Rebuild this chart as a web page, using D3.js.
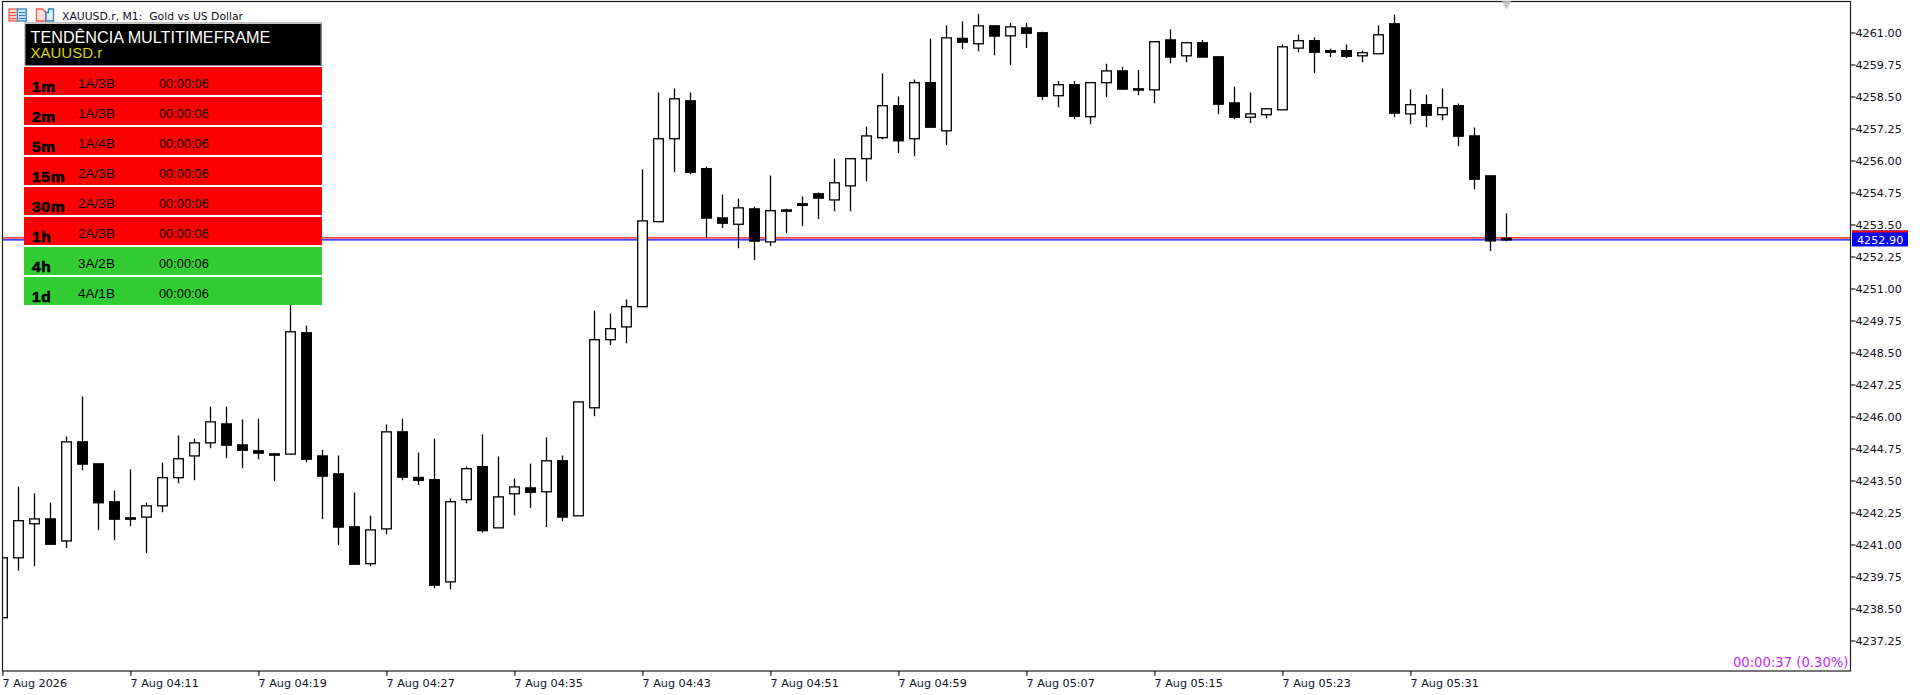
<!DOCTYPE html>
<html>
<head>
<meta charset="utf-8">
<title>XAUUSD.r M1</title>
<script src="https://cdn.jsdelivr.net/npm/d3@7/dist/d3.min.js"></script>
<style>
    html, body { margin: 0; padding: 0; background: #fff; overflow: hidden; }
    svg { display: block; }
    text { font-family: "DejaVu Sans", sans-serif; }
    .axis path, .axis line { stroke: #1c1c1c; stroke-width: 1.2; }
    .axis text { font-size: 11.2px; fill: #10101c; font-family: "DejaVu Sans", sans-serif; }
    .panel text { font-family: "Liberation Sans", Arial, sans-serif; }
</style>
</head>
<body>
<div id="chart"></div>
<script>
    "use strict";
    //====================================
    //chart data
    var opens = [4238.14, 4240.48, 4241.81, 4242.00, 4241.14, 4245.01, 4244.15, 4242.67, 4242.04, 4242.07,
        4242.51, 4243.61, 4244.46, 4244.97, 4245.71, 4244.89, 4244.66, 4244.54, 4244.53, 4249.27,
        4244.46, 4243.76, 4241.69, 4240.25, 4241.61, 4245.40, 4243.62, 4243.53, 4239.54, 4242.75,
        4244.04, 4241.65, 4242.98, 4243.21, 4243.06, 4244.27, 4242.12, 4246.34, 4249.00, 4249.50,
        4250.29, 4253.61, 4256.85, 4258.33, 4255.68, 4253.76, 4253.51, 4254.11, 4252.82, 4254.07,
        4254.31, 4254.70, 4254.46, 4255.01, 4256.07, 4256.89, 4258.14, 4256.85, 4259.04, 4257.16,
        4260.77, 4260.56, 4261.26, 4260.87, 4261.18, 4260.99, 4258.53, 4258.96, 4257.71, 4259.04,
        4259.50, 4258.80, 4258.76, 4260.71, 4260.09, 4260.60, 4260.05, 4258.25, 4257.69, 4257.79,
        4257.98, 4260.39, 4260.68, 4260.29, 4260.29, 4260.09, 4260.17, 4261.34, 4257.82, 4258.18,
        4257.79, 4258.14, 4256.96, 4255.40, 4252.96];
    var highs = [4240.48, 4243.27, 4242.99, 4242.64, 4245.22, 4246.78, 4244.15, 4243.11, 4243.93, 4242.64,
        4244.20, 4245.26, 4245.14, 4246.39, 4246.39, 4245.88, 4245.92, 4244.58, 4250.92, 4249.55,
        4244.70, 4244.48, 4243.03, 4242.13, 4245.69, 4245.92, 4244.59, 4245.14, 4242.80, 4244.05,
        4245.30, 4244.44, 4243.58, 4244.16, 4245.18, 4244.48, 4246.57, 4250.14, 4250.02, 4250.57,
        4255.65, 4258.66, 4258.81, 4258.66, 4255.77, 4254.67, 4254.52, 4254.20, 4255.41, 4254.12,
        4254.59, 4254.75, 4256.08, 4256.07, 4257.33, 4259.40, 4258.50, 4259.16, 4260.77, 4261.27,
        4261.43, 4261.73, 4261.27, 4261.38, 4261.38, 4261.03, 4259.11, 4259.11, 4259.07, 4259.78,
        4259.66, 4259.54, 4260.66, 4261.12, 4260.64, 4260.71, 4260.05, 4258.89, 4258.66, 4258.02,
        4260.53, 4260.92, 4260.80, 4260.37, 4260.53, 4260.29, 4261.27, 4261.70, 4258.77, 4258.58,
        4258.81, 4258.23, 4257.29, 4255.40, 4253.93];
    var lows = [4238.14, 4239.98, 4240.15, 4241.01, 4240.86, 4243.90, 4241.56, 4241.17, 4241.71, 4240.66,
        4242.26, 4243.39, 4243.51, 4244.76, 4244.37, 4243.98, 4244.33, 4243.47, 4244.53, 4244.21,
        4241.99, 4240.97, 4240.23, 4240.15, 4241.40, 4243.51, 4243.32, 4239.29, 4239.25, 4242.61,
        4241.47, 4241.65, 4242.14, 4242.42, 4241.68, 4241.91, 4242.12, 4246.01, 4248.79, 4248.86,
        4250.29, 4253.61, 4255.54, 4255.46, 4252.98, 4253.36, 4252.57, 4252.11, 4252.65, 4253.16,
        4253.43, 4253.71, 4254.02, 4254.02, 4255.19, 4256.83, 4256.29, 4256.17, 4257.30, 4256.60,
        4260.35, 4260.27, 4260.11, 4259.72, 4260.39, 4258.36, 4258.08, 4257.61, 4257.42, 4258.47,
        4258.75, 4258.55, 4258.24, 4259.80, 4259.84, 4260.04, 4257.81, 4257.61, 4257.46, 4257.65,
        4257.98, 4260.23, 4259.41, 4260.04, 4260.00, 4259.84, 4260.17, 4257.69, 4257.42, 4257.30,
        4257.57, 4256.56, 4254.88, 4252.46, 4252.85];
    var closes = [4240.48, 4241.93, 4242.00, 4241.01, 4245.01, 4244.14, 4242.63, 4241.99, 4241.99, 4242.51,
        4243.61, 4244.35, 4244.97, 4245.79, 4244.88, 4244.68, 4244.57, 4244.49, 4249.31, 4244.33,
        4243.67, 4241.68, 4240.23, 4241.57, 4245.40, 4243.63, 4243.51, 4239.41, 4242.67, 4243.96,
        4241.54, 4242.86, 4243.25, 4243.04, 4244.27, 4242.07, 4246.57, 4249.00, 4249.43, 4250.29,
        4253.64, 4256.85, 4258.41, 4255.54, 4253.75, 4253.55, 4254.15, 4252.85, 4254.04, 4254.02,
        4254.25, 4254.53, 4255.13, 4256.07, 4256.96, 4258.14, 4256.77, 4259.04, 4257.30, 4260.79,
        4260.62, 4261.26, 4260.86, 4261.22, 4260.97, 4258.51, 4258.96, 4257.73, 4259.04, 4259.50,
        4258.79, 4258.75, 4260.64, 4260.04, 4260.60, 4260.04, 4258.20, 4257.69, 4257.82, 4258.02,
        4260.44, 4260.68, 4260.23, 4260.23, 4260.07, 4260.21, 4260.91, 4257.85, 4258.18, 4257.77,
        4258.06, 4256.95, 4255.27, 4252.86, 4252.90];

    var priceTicks = [4261.00, 4259.75, 4258.50, 4257.25, 4256.00, 4254.75, 4253.50, 4252.25, 4251.00, 4249.75,
        4248.50, 4247.25, 4246.00, 4244.75, 4243.50, 4242.25, 4241.00, 4239.75, 4238.50, 4237.25];
    var timeTickBars = [0, 8, 16, 24, 32, 40, 48, 56, 64, 72, 80, 88];
    var timeTickLabels = ['7 Aug 2026', '7 Aug 04:11', '7 Aug 04:19', '7 Aug 04:27', '7 Aug 04:35', '7 Aug 04:43',
        '7 Aug 04:51', '7 Aug 04:59', '7 Aug 05:07', '7 Aug 05:15', '7 Aug 05:23', '7 Aug 05:31'];

    var bidPrice = 4252.90;
    var askPrice = 4252.98;

    var panelFrames = ['1m', '2m', '5m', '15m', '30m', '1h', '4h', '1d'];
    var panelCounts = ['1A/3B', '1A/3B', '1A/4B', '2A/3B', '2A/3B', '2A/3B', '3A/2B', '4A/1B'];
    var panelTimers = ['00:00:06', '00:00:06', '00:00:06', '00:00:06', '00:00:06', '00:00:06', '00:00:06', '00:00:06'];
    var panelColors = ['#ff0000', '#ff0000', '#ff0000', '#ff0000', '#ff0000', '#ff0000', '#32cd32', '#32cd32'];

    //====================================
    //layout
    var width = 1920;
    var height = 695;
    var plot = {left: 2.5, right: 1850.5, top: 1.5, bottom: 671};

    var svg = d3.select('#chart').append('svg')
        .attr('width', width)
        .attr('height', height);

    svg.append('clipPath').attr('id', 'plotClip')
        .append('rect')
        .attr('x', plot.left)
        .attr('y', plot.top)
        .attr('width', plot.right - plot.left)
        .attr('height', plot.bottom - plot.top);

    //1.25 price steps are 32px apart
    var y = d3.scaleLinear()
        .domain([4261, 4237.25])
        .range([32.5, 640.5]);
    //bars are 16px apart
    var x = d3.scaleLinear()
        .domain([0, 94])
        .range([2.5, 1506.5]);

    //====================================
    //price lines sit behind the candles
    var lines = svg.append('g').attr('clip-path', 'url(#plotClip)');
    lines.append('line')
        .attr('x1', plot.left).attr('x2', plot.right)
        .attr('y1', y(askPrice)).attr('y2', y(askPrice))
        .attr('stroke', '#ff0000').attr('stroke-width', 1.2);
    lines.append('line')
        .attr('x1', plot.left).attr('x2', plot.right)
        .attr('y1', y(bidPrice)).attr('y2', y(bidPrice))
        .attr('stroke', '#0000ff').attr('stroke-width', 1.2);

    //====================================
    //candles
    var candles = svg.append('g')
        .attr('clip-path', 'url(#plotClip)')
        .selectAll('g')
        .data(opens)
        .enter().append('g');

    candles.append('line')
        .attr('x1', function(d, i){return x(i);})
        .attr('x2', function(d, i){return x(i);})
        .attr('y1', function(d, i){return y(highs[i]);})
        .attr('y2', function(d, i){return y(lows[i]);})
        .attr('stroke', '#000')
        .attr('stroke-width', 1.3);

    candles.append('rect')
        .attr('x', function(d, i){return x(i) - 4.8;})
        .attr('width', 9.6)
        .attr('y', function(d, i){return y(Math.max(d, closes[i]));})
        .attr('height', function(d, i){return Math.abs(y(d) - y(closes[i]));})
        .attr('fill', function(d, i){return closes[i] > d ? '#fff' : '#000';})
        .attr('stroke', '#000')
        .attr('stroke-width', 1.3);

    //====================================
    //axes
    var yAxis = d3.axisRight(y)
        .tickValues(priceTicks)
        .tickFormat(d3.format('.2f'))
        .tickSize(5)
        .tickPadding(0);
    svg.append('g')
        .attr('class', 'axis')
        .attr('transform', 'translate(' + plot.right + ',0)')
        .call(yAxis)
        .call(function(g){g.select('.domain').remove();});

    var xAxis = d3.axisBottom(x)
        .tickValues(timeTickBars)
        .tickFormat(function(d, i){return timeTickLabels[i];})
        .tickSize(5)
        .tickPadding(3);
    svg.append('g')
        .attr('class', 'axis')
        .attr('transform', 'translate(0,' + plot.bottom + ')')
        .call(xAxis)
        .call(function(g){g.select('.domain').remove();})
        .selectAll('text')
        .attr('text-anchor', 'start')
        .attr('dx', '-0.5');

    //plot frame
    svg.append('rect')
        .attr('x', plot.left)
        .attr('y', plot.top)
        .attr('width', plot.right - plot.left)
        .attr('height', plot.bottom - plot.top)
        .attr('fill', 'none')
        .attr('stroke', '#1c1c1c')
        .attr('stroke-width', 1.2);

    //====================================
    //current price tag
    var tag = svg.append('g');
    tag.append('rect')
        .attr('x', 1852).attr('y', y(bidPrice) - 9.4)
        .attr('width', 56).attr('height', 16)
        .attr('fill', '#0000ff');
    tag.append('rect')
        .attr('x', 1852).attr('y', y(bidPrice) - 9.4)
        .attr('width', 56).attr('height', 2)
        .attr('fill', '#ff0000');
    tag.append('text')
        .attr('x', 1857).attr('y', y(bidPrice) + 4.2)
        .attr('font-size', 11.2)
        .attr('fill', '#fff')
        .text(d3.format('.2f')(bidPrice));

    //countdown bottom right
    svg.append('text')
        .attr('x', 1848.5).attr('y', 667)
        .attr('text-anchor', 'end')
        .attr('font-size', 13.2)
        .attr('fill', '#c02cf0')
        .text('00:00:37 (0.30%)');

    //grey scroll marker on top
    svg.append('path')
        .attr('d', d3.symbol().type(d3.symbolTriangle).size(38))
        .attr('transform', 'translate(' + x(94) + ',4) rotate(180)')
        .attr('fill', '#c4c4c4');

    //====================================
    //title bar
    svg.append('text')
        .attr('x', 62).attr('y', 20)
        .attr('font-size', 10.8)
        .attr('fill', '#10101c')
        .text('XAUUSD.r, M1:  Gold vs US Dollar')
        .style('white-space', 'pre');

    var icons = svg.append('g').attr('fill', 'none').attr('stroke-width', 1.3);
    icons.append('rect').attr('x', 9).attr('y', 9).attr('width', 8.5).attr('height', 12)
        .attr('stroke', '#ee5a50').attr('fill', '#fde0dc');
    icons.append('rect').attr('x', 17.5).attr('y', 9).attr('width', 8.8).attr('height', 12)
        .attr('stroke', '#2f80cc').attr('fill', '#e0eefa');
    [12.5, 15.5, 18.5].forEach(function(h){
        icons.append('line').attr('x1', 10).attr('x2', 16.5).attr('y1', h).attr('y2', h).attr('stroke', '#ee5a50');
        icons.append('line').attr('x1', 19).attr('x2', 25.5).attr('y1', h).attr('y2', h).attr('stroke', '#2f80cc');
    });
    icons.append('path').attr('d', 'M36.5,9 h6 l3,3 v9 h-9 z').attr('stroke', '#ee5a50').attr('fill', '#fde0dc');
    icons.append('path').attr('d', 'M46,12.5 h2.5 v-3.5 h5 v12 h-7.5 z').attr('stroke', '#2f80cc').attr('fill', '#e0eefa');

    //====================================
    //trend panel
    var panel = svg.append('g').attr('class', 'panel');
    panel.append('rect')
        .attr('x', 24).attr('y', 22.5)
        .attr('width', 298).attr('height', 43.5)
        .attr('fill', '#808080');
    panel.append('path')
        .attr('d', 'M24,66 V22.5 H322 L320.5,24 H25.5 V66 Z')
        .attr('fill', '#c8c8c8');
    panel.append('rect')
        .attr('x', 25.5).attr('y', 24)
        .attr('width', 295).attr('height', 41)
        .attr('fill', '#000');
    panel.append('text')
        .attr('x', 30.5).attr('y', 43)
        .attr('font-size', 16.2)
        .attr('fill', '#fff')
        .text('TENDÊNCIA MULTITIMEFRAME');
    panel.append('text')
        .attr('x', 30.5).attr('y', 58)
        .attr('font-size', 15)
        .attr('fill', '#d8d800')
        .text('XAUUSD.r');

    //rows are 30px apart, 28px tall
    var rowY = d3.scaleBand()
        .domain(panelFrames)
        .range([67, 307]);

    var rows = panel.selectAll('g.row')
        .data(panelFrames)
        .enter().append('g')
        .attr('class', 'row')
        .attr('transform', function(d){return 'translate(0,' + rowY(d) + ')';});

    rows.append('rect')
        .attr('x', 24)
        .attr('width', 298)
        .attr('height', 28)
        .attr('fill', function(d, i){return panelColors[i];});
    rows.append('text')
        .attr('x', 32).attr('y', 24.5)
        .attr('font-size', 15.5)
        .attr('font-weight', 'bold')
        .attr('letter-spacing', 0.7)
        .attr('fill', '#000')
        .attr('stroke', '#000')
        .attr('stroke-width', 0.7)
        .text(function(d){return d;});
    rows.append('text')
        .attr('x', 96.5).attr('y', 20.7)
        .attr('text-anchor', 'middle')
        .attr('font-size', 13.5)
        .attr('fill', '#000')
        .text(function(d, i){return panelCounts[i];});
    rows.append('text')
        .attr('x', 159).attr('y', 20.7)
        .attr('font-size', 12.8)
        .attr('fill', '#000')
        .text(function(d, i){return panelTimers[i];});
</script>
</body>
</html>
